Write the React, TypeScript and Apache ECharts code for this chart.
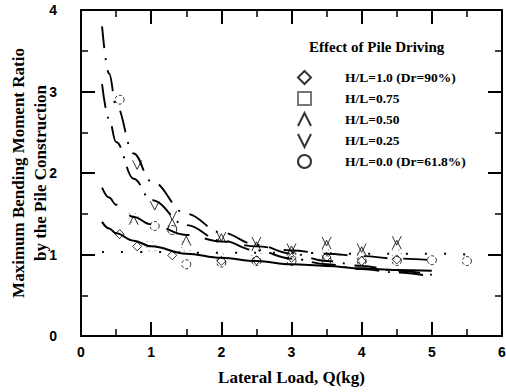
import React, { useEffect, useRef } from "react";
import * as echarts from "echarts";

// ---- data ----
const xTicks = [0, 1, 2, 3, 4, 5, 6];
const yTicks = [0, 1, 2, 3, 4];

// measured points [Q (kg), moment ratio]
const hl100 = [[0.55, 1.25], [0.8, 1.1], [1.3, 0.99], [2.0, 0.92], [2.5, 0.93], [3.0, 0.96], [3.5, 0.97], [4.0, 0.92], [4.5, 0.94]];
const hl075 = [[0.75, 1.45], [1.0, 1.1], [1.3, 1.3], [1.5, 1.1], [2.0, 0.95], [2.5, 1.0], [3.0, 1.0], [3.5, 1.0], [4.0, 0.96], [4.5, 1.0]];
const hl050 = [[0.75, 1.42], [1.3, 1.38], [1.5, 1.17], [2.0, 1.2], [2.5, 1.1], [3.0, 1.05], [3.5, 1.12], [4.0, 1.04], [4.5, 1.12]];
const hl025 = [[0.8, 2.1], [1.05, 1.6], [1.3, 1.48], [2.0, 1.22], [2.5, 1.16], [3.0, 1.08], [3.5, 1.16], [4.0, 1.08], [4.5, 1.17]];
const hl000 = [[0.55, 2.9], [1.05, 1.35], [1.3, 1.3], [1.5, 0.88], [2.0, 0.9], [2.5, 0.92], [3.0, 0.92], [3.5, 0.93], [4.0, 0.92], [4.5, 0.92], [5.0, 0.93], [5.5, 0.92]];

// fitted curves
const xFit = [0.3, 0.4, 0.5, 0.75, 1, 1.5, 2, 2.5, 3, 3.5, 4, 4.5, 5];
const fitSolid = [1.40, 1.32, 1.26, 1.17, 1.10, 1.01, 0.96, 0.92, 0.88, 0.86, 0.83, 0.81, 0.80];
const fitLongDash = [1.82, 1.70, 1.61, 1.46, 1.37, 1.24, 1.16, 1.10, 1.05, 1.01, 0.98, 0.95, 0.93];
const fitDashDot = [3.09, 2.66, 2.38, 1.93, 1.67, 1.36, 1.17, 1.05, 0.95, 0.88, 0.82, 0.78, 0.73];
const fitDashDotSteep = [3.80, 3.22, 2.83, 2.24, 1.90, 1.50, 1.27, 1.12, 1.01, 0.92, 0.86, 0.80, 0.75];
const xDotted = [0.3, 1, 2, 3, 4, 5, 5.5];
const fitDotted = [1.03, 1.03, 1.02, 1.02, 1.01, 1.01, 1.0];

const names = ["H/L=1.0 (Dr=90%)", "H/L=0.75", "H/L=0.50", "H/L=0.25", "H/L=0.0 (Dr=61.8%)"];

const SERIF = "'Liberation Serif', 'DejaVu Serif', serif";
const SANS = "'Liberation Sans', Arial, sans-serif";

function pairs(xs: number[], ys: number[]) {
  return xs.map((x, i) => [x, ys[i]]);
}

export default function App() {
  const ref = useRef<HTMLDivElement>(null);
  useEffect(() => {
    document.body.style.margin = "0";
    if (!ref.current) return;
    const chart = echarts.init(ref.current, null, { renderer: "svg" });

    const axisCommon = {
      type: "value" as const,
      axisLine: { show: true, onZero: false, lineStyle: { color: "#000", width: 2 } },
      axisTick: { show: true, inside: true, length: 14, lineStyle: { color: "#000", width: 2 } },
      minorTick: { show: true, splitNumber: 2, length: 7, lineStyle: { color: "#000", width: 1.5 } },
      splitLine: { show: false },
    };

    const markerStyle = { color: "transparent", borderColor: "#000", borderWidth: 1 };

    const scatter = (name: string, data: number[][], symbol: string, extra: any = {}) => ({
      name,
      type: "scatter",
      data,
      symbol,
      symbolSize: 9,
      itemStyle: { ...markerStyle, ...extra },
      z: 3,
    });

    const line = (name: string, data: number[][], type: any, width = 1.9) => ({
      name,
      type: "line",
      data,
      smooth: 0.4,
      smoothMonotone: "x",
      showSymbol: false,
      symbol: "none",
      lineStyle: { color: "#000", width, type },
      z: 2,
    });

    chart.setOption({
      animation: false,
      backgroundColor: "#fff",
      title: {
        text: "Effect of Pile Driving",
        left: 304,
        top: 34,
        textStyle: { fontFamily: SERIF, fontWeight: "bold", fontSize: 15, color: "#000" },
      },
      legend: {
        data: names,
        orient: "vertical",
        left: 292,
        top: 65,
        itemWidth: 13,
        itemHeight: 13,
        itemGap: 6,
        textStyle: { fontFamily: SERIF, fontWeight: "bold", fontSize: 13.5, lineHeight: 13, color: "#000", padding: [0, 0, 0, 29] },
      },
      grid: { left: 81, right: 4, top: 10, bottom: 56, containLabel: false, outerBoundsMode: "none" },
      xAxis: [
        {
          ...axisCommon,
          min: 0,
          max: 6,
          interval: 1,
          name: "Lateral Load, Q(kg)",
          nameLocation: "middle",
          nameGap: 33,
          nameTextStyle: { fontFamily: SERIF, fontWeight: "bold", fontSize: 17, color: "#000" },
          axisLabel: { fontFamily: SANS, fontWeight: "bold", fontSize: 14, color: "#000", margin: 9,
            formatter: (v: number) => (xTicks.includes(v) ? String(v) : "") },
        },
        {
          ...axisCommon,
          position: "top",
          min: 0,
          max: 6,
          interval: 1,
          axisLabel: { show: false },
        },
      ],
      yAxis: [
        {
          ...axisCommon,
          min: 0,
          max: 4,
          interval: 1,
          name: "Maximum Bending Moment Ratio\nby the Pile Construction",
          nameLocation: "middle",
          nameGap: 30,
          nameMoveOverlap: false,
          nameTextStyle: { fontFamily: SERIF, fontWeight: "bold", fontSize: 17, color: "#000", lineHeight: 22 },
          axisLabel: { fontFamily: SANS, fontWeight: "bold", fontSize: 14, color: "#000", margin: 24,
            formatter: (v: number) => (yTicks.includes(v) ? String(v) : "") },
        },
        {
          ...axisCommon,
          position: "right",
          min: 0,
          max: 4,
          interval: 1,
          axisLabel: { show: false },
        },
      ],
      series: [
        line("fit solid", pairs(xFit, fitSolid), "solid", 2),
        line("fit dotted", pairs(xDotted, fitDotted), [2, 17], 2),
        line("fit long dash", pairs(xFit, fitLongDash), [24, 16]),
        line("fit dash dot", pairs(xFit, fitDashDot), [24, 9, 2, 9]),
        line("fit dash dot steep", pairs(xFit, fitDashDotSteep), [22, 10, 2, 10]),
        scatter(names[0], hl100, "path://M5,0 L10,5 L5,10 L0,5 Z"),
        scatter(names[1], hl075, "rect", { borderType: [1, 5], borderColor: "#555" }),
        scatter(names[2], hl050, "path://M0,10 L5,0 L10,10"),
        scatter(names[3], hl025, "path://M0,0 L5,10 L10,0"),
        scatter(names[4], hl000, "circle", { borderType: [3, 2] }),
      ],
    });
    return () => chart.dispose();
  }, []);
  return <div ref={ref} style={{ width: 506, height: 392 }} />;
}
